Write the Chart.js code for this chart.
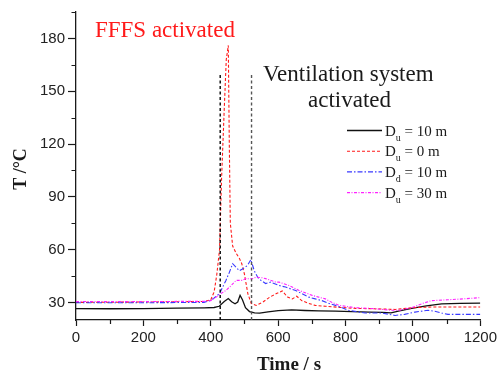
<!DOCTYPE html>
<html>
<head>
<meta charset="utf-8">
<title>Temperature vs time</title>
<script src="https://cdn.jsdelivr.net/npm/chart.js@4.4.1/dist/chart.umd.min.js"></script>
<style>
  html, body { margin: 0; padding: 0; background: #fff; }
  #wrap { width: 500px; height: 376px; position: relative; }
</style>
</head>
<body>
<div id="wrap"><canvas id="chart" width="500" height="376"></canvas></div>
<script>
// Temperature traces (time in s, T in degC)
const TIME_DU10 = [0, 100, 200, 300, 380, 410, 425, 440, 452, 462, 472, 480, 487, 494, 503, 515, 530, 545, 570, 600, 640, 680, 720, 770, 820, 870, 910, 935, 960, 1000, 1040, 1085, 1140, 1200];
const TEMP_DU10 = [26.5, 26.4, 26.5, 26.7, 26.9, 27.1, 27.8, 30.5, 32.2, 30.4, 29.2, 30.2, 34.0, 31.5, 27.0, 24.8, 24.0, 23.9, 24.6, 25.3, 25.7, 25.4, 25.2, 25.0, 24.8, 24.5, 24.3, 24.0, 25.2, 26.8, 28.0, 29.2, 29.5, 29.6];

const TIME_DU0 = [0, 200, 380, 400, 410, 418, 426, 432, 440, 446, 452, 455, 458, 465, 475, 485, 492, 500, 510, 520, 535, 555, 575, 595, 612, 628, 642, 655, 670, 690, 710, 740, 780, 830, 880, 947, 1000, 1060, 1120, 1200];
const TEMP_DU0 = [30.0, 30.2, 30.5, 31.5, 36, 46, 60, 100, 140, 168, 176, 120, 75, 62, 58, 55, 52, 46, 35, 29.5, 28.3, 30.2, 33, 35, 36.5, 33, 32, 33.5, 31, 29.5, 28.3, 27.8, 27.2, 26.6, 26.4, 26.0, 27.0, 27.4, 27.4, 27.4];

const TIME_DD10 = [0, 200, 380, 397, 410, 426, 445, 455, 465, 475, 485, 494, 509, 519, 529, 540, 549, 563, 578, 603, 622, 640, 652, 670, 691, 710, 730, 750, 770, 790, 809, 858, 907, 947, 975, 1006, 1045, 1065, 1085, 1104, 1150, 1200];
const TEMP_DD10 = [29.8, 29.8, 30.0, 31.0, 32.5, 35.0, 42.5, 47.0, 52.0, 50.0, 48.0, 49.0, 51.0, 54.3, 48.0, 44.0, 42.5, 40.7, 41.5, 39.6, 38.7, 37.5, 36.8, 35.0, 33.0, 32.0, 31.0, 29.5, 28.3, 27.0, 25.5, 24.0, 24.0, 22.6, 23.2, 24.5, 25.5, 25.0, 24.0, 23.2, 23.2, 23.2];

const TIME_DU30 = [0, 200, 380, 400, 416, 430, 445, 460, 475, 494, 504, 523, 534, 553, 563, 593, 603, 632, 662, 680, 701, 720, 740, 760, 780, 800, 829, 888, 937, 960, 996, 1030, 1055, 1104, 1150, 1200];
const TEMP_DU30 = [30.5, 30.5, 30.6, 31.0, 33.0, 35.0, 36.8, 39.5, 42.5, 42.5, 43.5, 43.4, 44.3, 44.0, 43.5, 41.5, 41.5, 39.6, 36.8, 35.5, 34.0, 33.0, 32.0, 30.0, 28.3, 27.8, 27.0, 26.4, 25.5, 25.5, 27.0, 29.5, 31.0, 31.5, 32.0, 32.7];

// legend names split as [letter, subscript, rest]
const SERIES_NAMES = [['D', 'u', ' = 10 m'], ['D', 'u', ' = 0 m'], ['D', 'd', ' = 10 m'], ['D', 'u', ' = 30 m']];

// activation instants (FFFS, ventilation) and the height of their marker lines
const EVENT_TIMES = [428, 521];
const EVENT_TOP = 160;

const X_TICKS = [0, 200, 400, 600, 800, 1000, 1200];
const X_MINOR = [100, 300, 500, 700, 900, 1100];
const Y_TICKS = [30, 60, 90, 120, 150, 180];
const Y_MINOR = [45, 75, 105, 135, 165, 195];

const Y_MIN = 20, Y_MAX = 195;
const INK = '#1a1a1a';
const SERIF = '"Liberation Serif", "Times New Roman", serif';
const SANS = '"Liberation Sans", Arial, sans-serif';

const zip = (xs, ys) => xs.map((x, i) => ({ x, y: ys[i] }));

const series = (i, t, T, color, dash, width) => ({
  label: SERIES_NAMES[i].join(''),
  names: SERIES_NAMES[i],
  data: zip(t, T),
  borderColor: color,
  borderDash: dash,
  borderWidth: width,
  pointRadius: 0,
  tension: 0,
  fill: false
});

const eventLine = (t, color) => ({
  label: '',
  data: [{ x: t, y: Y_MIN }, { x: t, y: EVENT_TOP }],
  borderColor: color,
  borderDash: [3, 2.5],
  borderWidth: 1.4,
  pointRadius: 0,
  fill: false
});

const datasets = [
  eventLine(EVENT_TIMES[0], '#000'),
  eventLine(EVENT_TIMES[1], '#555'),
  series(3, TIME_DU30, TEMP_DU30, '#ff22ff', [3, 1.5, 1, 1.5], 1.1),
  series(2, TIME_DD10, TEMP_DD10, '#3a3aff', [5, 2, 1.5, 2], 1.1),
  series(1, TIME_DU0, TEMP_DU0, '#ff1a1a', [3, 2], 1.1),
  series(0, TIME_DU10, TEMP_DU10, '#111', [], 1.3)
];

// minor ticks, annotations, legend and axis titles
const overlay = {
  id: 'overlay',
  afterDraw(chart) {
    const { ctx, chartArea: a, scales: { x, y } } = chart;
    ctx.save();

    ctx.strokeStyle = INK;
    ctx.lineWidth = 1.2;
    ctx.beginPath();
    Y_MINOR.forEach(v => {
      const py = Math.round(y.getPixelForValue(v)) + 0.5;
      ctx.moveTo(a.left - 4.5, py); ctx.lineTo(a.left, py);
    });
    X_MINOR.forEach(v => {
      const px = Math.round(x.getPixelForValue(v)) + 0.5;
      ctx.moveTo(px, a.bottom); ctx.lineTo(px, a.bottom + 4);
    });
    ctx.stroke();

    ctx.textBaseline = 'alphabetic';
    ctx.textAlign = 'left';
    ctx.font = '23px ' + SERIF;
    ctx.fillStyle = '#ff1a1a';
    ctx.fillText('FFFS activated', 95, 37);
    ctx.fillStyle = INK;
    ctx.fillText('Ventilation system', 263, 81);
    ctx.fillText('activated', 308, 107);

    // legend, in original series order
    const rows = chart.data.datasets.filter(d => d.names).slice().reverse();
    rows.forEach((d, i) => {
      const cy = 130.5 + i * 20.7;
      ctx.strokeStyle = d.borderColor;
      ctx.lineWidth = d.borderWidth;
      ctx.setLineDash(d.borderDash);
      ctx.beginPath();
      ctx.moveTo(347, cy); ctx.lineTo(382, cy);
      ctx.stroke();
      ctx.setLineDash([]);
      ctx.fillStyle = INK;
      ctx.font = '15px ' + SERIF;
      const base = cy + 5;
      ctx.fillText(d.names[0], 385, base);
      let tx = 385 + ctx.measureText(d.names[0]).width;
      ctx.font = '10px ' + SERIF;
      ctx.fillText(d.names[1], tx, base + 5);
      tx += ctx.measureText(d.names[1]).width;
      ctx.font = '15px ' + SERIF;
      ctx.fillText(d.names[2], tx, base);
    });

    // axis titles
    ctx.fillStyle = INK;
    ctx.font = 'bold 19px ' + SERIF;
    ctx.textAlign = 'center';
    ctx.fillText('Time / s', 289, 370);
    ctx.translate(21, 169);
    ctx.rotate(-Math.PI / 2);
    ctx.font = 'bold 18px ' + SERIF;
    ctx.textBaseline = 'middle';
    ctx.fillText('T /°C', 0, 0);

    ctx.restore();
  }
};

new Chart(document.getElementById('chart'), {
  type: 'line',
  data: { datasets },
  plugins: [overlay],
  options: {
    responsive: false,
    animation: false,
    layout: { padding: { top: 9, right: 17.5, left: 0, bottom: 0 } },
    plugins: { legend: { display: false }, tooltip: { enabled: false } },
    scales: {
      x: {
        type: 'linear', min: 0, max: 1200,
        afterBuildTicks: s => { s.ticks = X_TICKS.map(v => ({ value: v })); },
        afterFit: s => { s.height = 56; },
        border: { display: true, color: INK, width: 1.3 },
        grid: { drawOnChartArea: false, drawTicks: true, tickLength: 6, tickColor: INK, tickWidth: 1.2 },
        ticks: { padding: 3, color: '#222', maxRotation: 0, font: { family: SANS, size: 15 }, callback: v => String(v) }
      },
      y: {
        type: 'linear', min: Y_MIN, max: Y_MAX,
        afterBuildTicks: s => { s.ticks = Y_TICKS.map(v => ({ value: v })); },
        afterFit: s => { s.width = 76; },
        border: { display: true, color: INK, width: 1.3 },
        grid: { drawOnChartArea: false, drawTicks: true, tickLength: 8, tickColor: INK, tickWidth: 1.2 },
        ticks: { padding: 3, color: '#222', font: { family: SANS, size: 15 }, callback: v => String(v) }
      }
    }
  }
});
</script>
</body>
</html>
